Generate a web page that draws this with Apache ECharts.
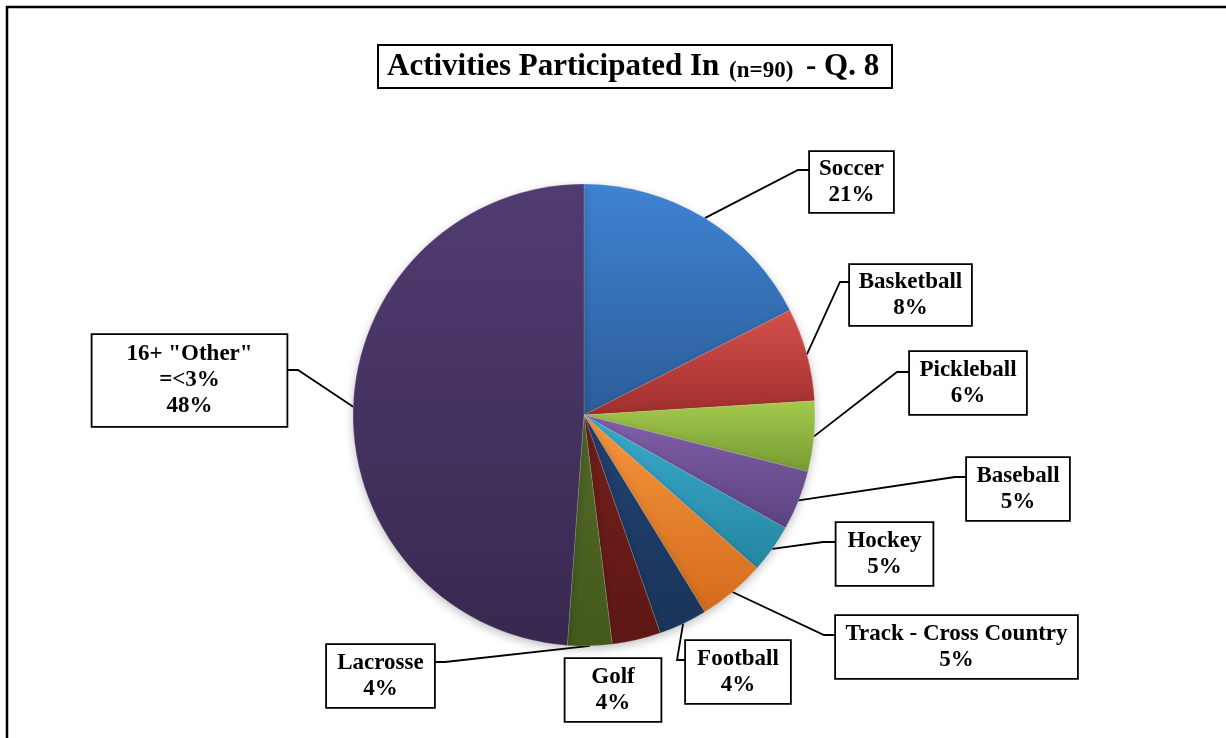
<!DOCTYPE html>
<html>
<head>
<meta charset="utf-8">
<script src="https://cdn.jsdelivr.net/npm/echarts@6/dist/echarts.min.js"></script>
<style>
html,body{margin:0;padding:0;background:#fff;}
#chart{width:1226px;height:738px;}
</style>
</head>
<body>
<div id="chart"></div>
<script>
// ---- data ----
const categories = ['Soccer', 'Basketball', 'Pickleball', 'Baseball', 'Hockey', 'Track - Cross Country', 'Football', 'Golf', 'Lacrosse', '16+ "Other"\n=<3%'];
const sliceShares = [17.5, 6.5, 4.9, 4.2, 3.4, 4.7, 3.4, 3.4, 3.1, 48.8];
const labelPercents = ['21%', '8%', '6%', '5%', '5%', '5%', '4%', '4%', '4%', '48%'];

// ---- styling / layout ----
const colorPairs = [
  ['#3f83d3', '#2c5d98'],
  ['#d5504c', '#9f2f2d'],
  ['#a3c94c', '#789c34'],
  ['#8160aa', '#5c4180'],
  ['#38acce', '#26859f'],
  ['#f8953c', '#d36c1c'],
  ['#214272', '#1a3459'],
  ['#721f1b', '#5e1815'],
  ['#52692a', '#435a1b'],
  ['#513c72', '#38284f']
];
// label box centre, width, height
const boxes = [
  {cx: 851.5, cy: 182, w: 83, h: 60},
  {cx: 910.5, cy: 295, w: 121, h: 60},
  {cx: 968, cy: 383, w: 116, h: 62},
  {cx: 1018, cy: 489, w: 102, h: 62},
  {cx: 884.5, cy: 554, w: 96, h: 62},
  {cx: 956.5, cy: 647, w: 241, h: 62},
  {cx: 738, cy: 672, w: 104, h: 62},
  {cx: 613, cy: 690, w: 95, h: 62},
  {cx: 380.5, cy: 676, w: 107, h: 62},
  {cx: 189.5, cy: 380.5, w: 194, h: 91}
];
// leader line: bend point, end point (null = no leader)
const leaders = [
  [798, 170, 810, 170],
  [840, 282, 850, 282],
  [897, 372, 910, 372],
  [955, 477, 967, 477],
  [823, 542, 837, 542],
  [824, 635, 836, 635],
  [677, 660, 686, 660],
  null,
  [445, 662, 434, 662],
  [298, 370, 287, 370]
];

const chart = echarts.init(document.getElementById('chart'));

const seriesData = categories.map((name, i) => {
  const b = boxes[i];
  const lines = name.split('\n').length + 1;
  const lh = 26;
  const padV = (b.h - lines * lh) / 2;
  return {
    name: name,
    value: sliceShares[i],
    itemStyle: {
      color: {
        type: 'linear', x: 0, y: 0, x2: 0, y2: 1,
        colorStops: [{offset: 0, color: colorPairs[i][0]}, {offset: 1, color: colorPairs[i][1]}]
      }
    },
    label: {width: b.w, padding: [padV + 1, 0, padV - 1, 0]},
    labelLine: {show: leaders[i] !== null}
  };
});

chart.setOption({
  animation: false,
  backgroundColor: '#fff',
  graphic: [{
    type: 'rect',
    shape: {x: 7, y: 7, width: 1400, height: 900},
    style: {fill: 'none', stroke: '#000', lineWidth: 2.5},
    silent: true,
    z: -1
  }],
  title: {
    left: 378,
    top: 44,
    text: '{a|Activities Participated In }{b|(n=90)}{a| - Q. 8}',
    backgroundColor: '#fff',
    borderColor: '#000',
    borderWidth: 2,
    padding: [6, 13, 5, 9],
    textStyle: {
      rich: {
        a: {fontFamily: 'Liberation Serif', fontWeight: 'bold', fontSize: 31, color: '#000', lineHeight: 33},
        b: {fontFamily: 'Liberation Serif', fontWeight: 'bold', fontSize: 23, color: '#000', lineHeight: 33, verticalAlign: 'bottom', padding: [0, 5, 0, 2]}
      }
    }
  },
  series: [{
    type: 'pie',
    center: [584, 415],
    radius: 231,
    startAngle: 90,
    clockwise: true,
    avoidLabelOverlap: false,
    data: seriesData,
    itemStyle: {
      borderColor: 'rgba(255,255,255,0.25)',
      borderWidth: 0.6,
      shadowBlur: 10,
      shadowColor: 'rgba(0,0,0,0.25)',
      shadowOffsetY: 3
    },
    label: {
      show: true,
      position: 'outside',
      formatter: (p) => p.name + '\n' + labelPercents[p.dataIndex],
      fontFamily: 'Liberation Serif',
      fontWeight: 'bold',
      fontSize: 23,
      lineHeight: 26,
      color: '#000',
      align: 'center',
      backgroundColor: '#fff',
      borderColor: '#000',
      borderWidth: 1.8
    },
    labelLine: {
      show: true,
      length: 20,
      length2: 10,
      lineStyle: {color: '#000', width: 1.8}
    },
    labelLayout: function (p) {
      const b = boxes[p.dataIndex];
      const out = {x: b.cx, y: b.cy, align: 'center', verticalAlign: 'middle'};
      const l = leaders[p.dataIndex];
      if (l && p.labelLinePoints) {
        out.labelLinePoints = [p.labelLinePoints[0], [l[0], l[1]], [l[2], l[3]]];
      }
      return out;
    }
  }]
});
</script>
</body>
</html>
